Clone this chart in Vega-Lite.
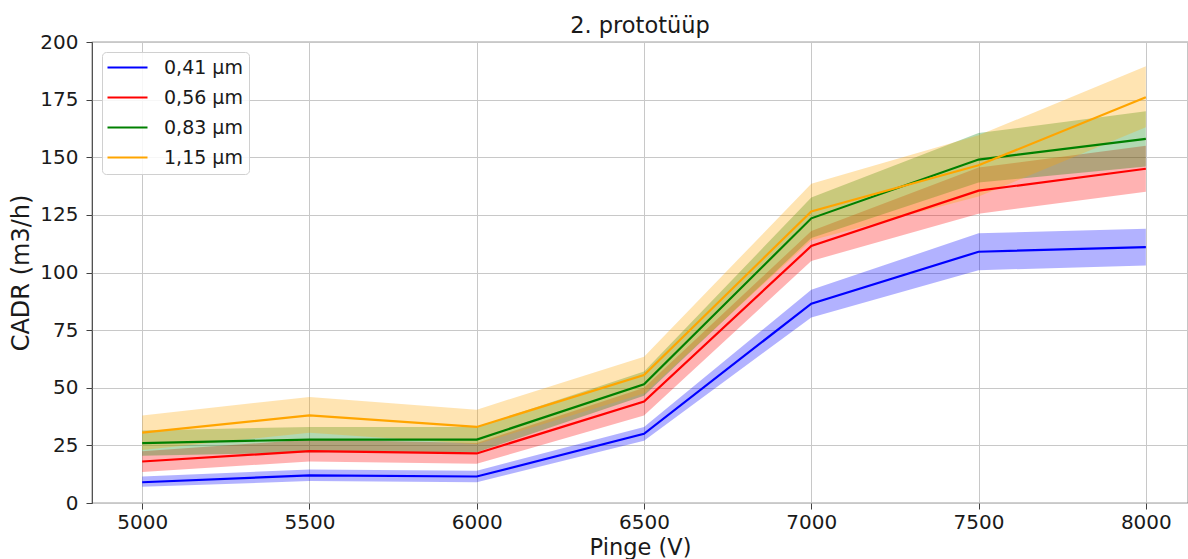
{
  "$schema": "https://vega.github.io/schema/vega-lite/v6.json",
  "autosize": "none",
  "padding": {"left": 92, "top": 42, "right": 0, "bottom": 56},
  "width": 1096,
  "height": 461,
  "background": "white",
  "title": {"text": "2. prototüüp", "fontSize": 22.5, "font": "DejaVu Sans", "fontWeight": "normal", "color": "#1a1a1a", "anchor": "middle", "offset": -5},
  "config": {
    "font": "DejaVu Sans",
    "view": {"stroke": "#404040", "strokeWidth": 1.2},
    "axis": {"labelFont": "DejaVu Sans", "titleFont": "DejaVu Sans", "labelFontSize": 20, "titleFontSize": 22.5, "labelColor": "#1a1a1a", "titleColor": "#1a1a1a", "titleFontWeight": "normal", "gridColor": "#c8c8c8", "gridWidth": 1, "domain": false, "tickColor": "#404040", "tickSize": 6}
  },
  "resolve": {"legend": {"color": "independent"}},
  "data": {"values": [
    {"s": "0,41 µm", "x": 5000, "y": 9, "lo": 7, "hi": 11.5},
    {"s": "0,41 µm", "x": 5500, "y": 12, "lo": 9.5, "hi": 14.5},
    {"s": "0,41 µm", "x": 6000, "y": 11.5, "lo": 9, "hi": 14},
    {"s": "0,41 µm", "x": 6500, "y": 30, "lo": 27, "hi": 33},
    {"s": "0,41 µm", "x": 7000, "y": 86.5, "lo": 80.5, "hi": 92.5},
    {"s": "0,41 µm", "x": 7500, "y": 109, "lo": 101, "hi": 117},
    {"s": "0,41 µm", "x": 8000, "y": 111, "lo": 103, "hi": 119},
    {"s": "0,56 µm", "x": 5000, "y": 18, "lo": 13.5, "hi": 22.5},
    {"s": "0,56 µm", "x": 5500, "y": 22.5, "lo": 18, "hi": 27.5},
    {"s": "0,56 µm", "x": 6000, "y": 21.5, "lo": 17, "hi": 26},
    {"s": "0,56 µm", "x": 6500, "y": 44, "lo": 38, "hi": 50},
    {"s": "0,56 µm", "x": 7000, "y": 111.5, "lo": 105, "hi": 118},
    {"s": "0,56 µm", "x": 7500, "y": 135.5, "lo": 125.5, "hi": 145.5},
    {"s": "0,56 µm", "x": 8000, "y": 145, "lo": 135, "hi": 155},
    {"s": "0,83 µm", "x": 5000, "y": 26, "lo": 20.5, "hi": 31.5},
    {"s": "0,83 µm", "x": 5500, "y": 27.5, "lo": 22, "hi": 33},
    {"s": "0,83 µm", "x": 6000, "y": 27.5, "lo": 22, "hi": 33},
    {"s": "0,83 µm", "x": 6500, "y": 51.5, "lo": 46.5, "hi": 57},
    {"s": "0,83 µm", "x": 7000, "y": 123.5, "lo": 115, "hi": 132.5},
    {"s": "0,83 µm", "x": 7500, "y": 149, "lo": 139, "hi": 160.5},
    {"s": "0,83 µm", "x": 8000, "y": 158, "lo": 146, "hi": 170},
    {"s": "1,15 µm", "x": 5000, "y": 30.5, "lo": 23, "hi": 38},
    {"s": "1,15 µm", "x": 5500, "y": 38, "lo": 30.5, "hi": 46},
    {"s": "1,15 µm", "x": 6000, "y": 33, "lo": 25.5, "hi": 40.5},
    {"s": "1,15 µm", "x": 6500, "y": 55.5, "lo": 47.5, "hi": 63.5},
    {"s": "1,15 µm", "x": 7000, "y": 126.5, "lo": 114, "hi": 138.5},
    {"s": "1,15 µm", "x": 7500, "y": 146.5, "lo": 133, "hi": 159.5},
    {"s": "1,15 µm", "x": 8000, "y": 176, "lo": 163, "hi": 189.5}
  ]},
  "encoding": {
    "x": {"field": "x", "type": "quantitative", "title": "Pinge (V)",
      "scale": {"domain": [4850, 8126], "nice": false, "zero": false},
      "axis": {"values": [5000, 5500, 6000, 6500, 7000, 7500, 8000], "format": "d", "labelPadding": 3, "titlePadding": 4, "labelFlush": false}}
  },
  "layer": [
    {
      "mark": {"type": "area", "opacity": 0.3},
      "encoding": {
        "y": {"field": "lo", "type": "quantitative", "title": "CADR (m3/h)",
          "scale": {"domain": [0, 200], "nice": false},
          "axis": {"values": [0, 25, 50, 75, 100, 125, 150, 175, 200], "labelPadding": 8, "titlePadding": 6, "titleFontSize": 24}},
        "y2": {"field": "hi"},
        "color": {"field": "s", "type": "nominal", "legend": null,
          "scale": {"domain": ["0,41 µm", "0,56 µm", "0,83 µm", "1,15 µm"], "range": ["#0000ff", "#ff0000", "#008000", "#ffa500"]}}
      }
    },
    {
      "mark": {"type": "line", "strokeWidth": 2.2},
      "encoding": {
        "y": {"field": "y", "type": "quantitative"},
        "color": {"field": "s", "type": "nominal",
          "scale": {"domain": ["0,41 µm", "0,56 µm", "0,83 µm", "1,15 µm"], "range": ["#0000ff", "#ff0000", "#008000", "#ffa500"]},
          "legend": {"title": null, "orient": "top-left", "offset": 10, "symbolType": "M-2,0L6,0", "symbolSize": 100, "symbolStrokeWidth": 2, "labelFontSize": 19, "labelColor": "#1a1a1a", "labelFont": "DejaVu Sans", "labelOffset": 37, "rowPadding": 10, "padding": 6, "fillColor": "rgba(255,255,255,0.85)", "strokeColor": "#d0d0d0", "cornerRadius": 4}}
      }
    }
  ]
}
